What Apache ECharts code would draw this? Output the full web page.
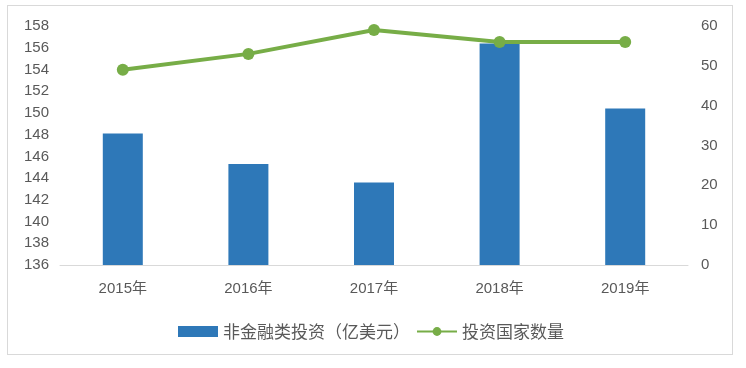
<!DOCTYPE html>
<html><head><meta charset="utf-8">
<script src="https://cdn.jsdelivr.net/npm/echarts@6/dist/echarts.min.js"></script>
<style>html,body{margin:0;padding:0;background:#fff}
#frame{position:absolute;left:7px;top:5px;width:726px;height:350px;border:1px solid #d9d9d9;box-sizing:border-box}
#c{width:746px;height:368px;position:absolute;left:0;top:0}</style>
</head><body><div id="frame"></div><div id="c"></div>
<script>
const categories = ['2015年','2016年','2017年','2018年','2019年'];
const investment = [148.1, 145.3, 143.6, 156.4, 150.4];
const countries = [49, 53, 59, 56, 56];
const leftTicks = {min:136, max:158, interval:2};
const rightTicks = {min:0, max:60, interval:10};

const chart = echarts.init(document.getElementById('c'));
const font = "'Liberation Sans','Noto Sans CJK SC',sans-serif";
chart.setOption({
  animation:false,
  textStyle:{fontFamily:font},
  grid:{left:60, right:58, top:26, bottom:103, containLabel:false},
  legend:{
    top:318, left:173, itemGap:6, itemWidth:40, itemHeight:11,
    textStyle:{color:'#595959', fontSize:17, fontFamily:"'Noto Sans CJK SC',sans-serif"},
    data:[{name:'非金融类投资（亿美元）', icon:'rect'}, {name:'投资国家数量'}]
  },
  xAxis:{type:'category', data:categories,
    axisLine:{lineStyle:{color:'#d9d9d9', width:1}}, axisTick:{show:false},
    axisLabel:{color:'#595959', fontSize:15, margin:16}},
  yAxis:[
    {type:'value', min:leftTicks.min, max:leftTicks.max, interval:leftTicks.interval,
     splitLine:{show:false}, axisLine:{show:false}, axisTick:{show:false},
     axisLabel:{color:'#595959', fontSize:15, margin:11}},
    {type:'value', min:rightTicks.min, max:rightTicks.max, interval:rightTicks.interval,
     splitLine:{show:false}, axisLine:{show:false}, axisTick:{show:false},
     axisLabel:{color:'#595959', fontSize:15, margin:13}}
  ],
  series:[
    {name:'非金融类投资（亿美元）', type:'bar', data:investment, barWidth:40,
     itemStyle:{color:'#2e78b8'}},
    {name:'投资国家数量', type:'line', yAxisIndex:1, data:countries,
     symbol:'circle', symbolSize:12,
     lineStyle:{color:'#77ad47', width:4}, itemStyle:{color:'#77ad47'}}
  ]
});
</script></body></html>
